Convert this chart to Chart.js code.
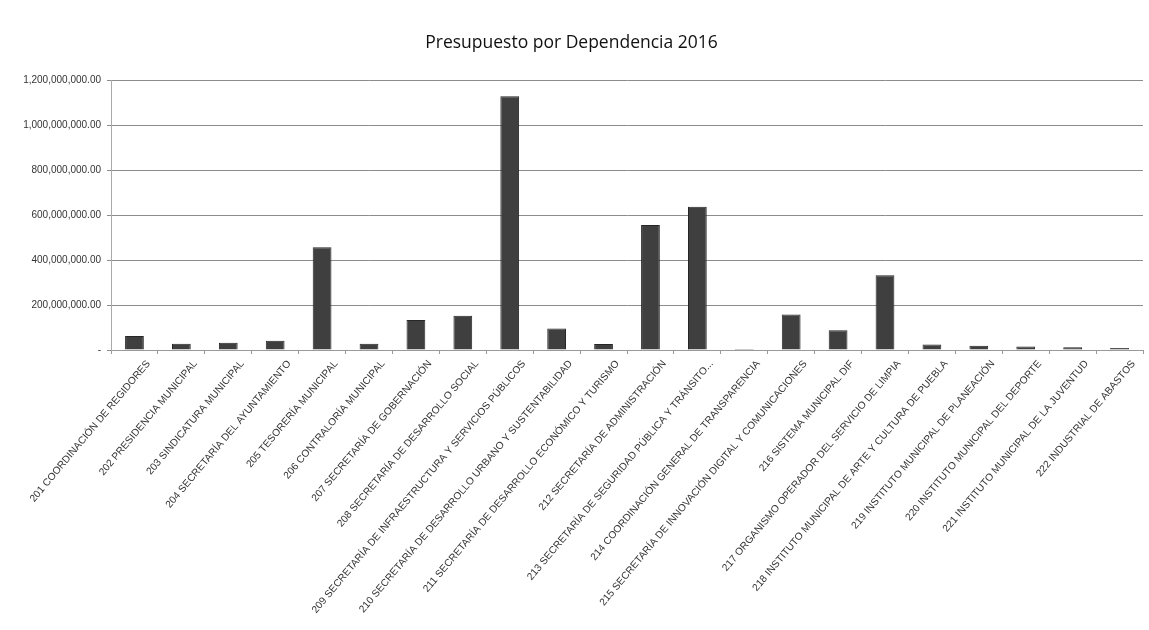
<!DOCTYPE html>
<html>
<head>
<meta charset="utf-8">
<title>Presupuesto por Dependencia 2016</title>
<script src="https://cdn.jsdelivr.net/npm/chart.js@4/dist/chart.umd.min.js"></script>
<style>
  html, body { margin: 0; padding: 0; background: #fff; }
  #wrap { width: 1149px; height: 630px; }
</style>
</head>
<body>
<div id="wrap"><canvas id="presupuestoChart" width="1149" height="630"></canvas></div>
<script>
const dependencias = [
  '201 COORDINACIÓN DE REGIDORES',
  '202 PRESIDENCIA MUNICIPAL',
  '203 SINDICATURA MUNICIPAL',
  '204 SECRETARÍA DEL AYUNTAMIENTO',
  '205 TESORERÍA MUNICIPAL',
  '206 CONTRALORÍA MUNICIPAL',
  '207 SECRETARÍA DE GOBERNACIÓN',
  '208 SECRETARÍA DE DESARROLLO SOCIAL',
  '209 SECRETARÍA DE INFRAESTRUCTURA Y SERVICIOS PÚBLICOS',
  '210 SECRETARÍA DE DESARROLLO URBANO Y SUSTENTABILIDAD',
  '211 SECRETARÍA DE DESARROLLO ECONÓMICO Y TURISMO',
  '212 SECRETARÍA DE ADMINISTRACIÓN',
  '213 SECRETARÍA DE SEGURIDAD PÚBLICA Y TRÁNSITO...',
  '214 COORDINACIÓN GENERAL DE TRANSPARENCIA',
  '215 SECRETARÍA DE INNOVACIÓN DIGITAL Y COMUNICACIONES',
  '216 SISTEMA MUNICIPAL DIF',
  '217 ORGANISMO OPERADOR DEL SERVICIO DE LIMPIA',
  '218 INSTITUTO MUNICIPAL DE ARTE Y CULTURA DE PUEBLA',
  '219 INSTITUTO MUNICIPAL DE PLANEACIÓN',
  '220 INSTITUTO MUNICIPAL DEL DEPORTE',
  '221 INSTITUTO MUNICIPAL DE LA JUVENTUD',
  '222 INDUSTRIAL DE ABASTOS'
];

const presupuesto = [
  62000000, 28000000, 32000000, 41000000, 457000000, 28000000,
  133000000, 152000000, 1128000000, 96000000, 27000000, 556000000,
  637000000, 5000000, 158000000, 88000000, 332000000, 25000000,
  19000000, 16000000, 12000000, 9000000
];

const ejeMax = 1200000000;
const ejePaso = 200000000;

function formatoMonto(v) {
  if (v === 0) return '-';
  return v.toLocaleString('en-US', { minimumFractionDigits: 2, maximumFractionDigits: 2 });
}

const ctx = document.getElementById('presupuestoChart');
new Chart(ctx, {
  type: 'bar',
  data: {
    labels: dependencias,
    datasets: [{
      label: 'Presupuesto',
      data: presupuesto,
      backgroundColor: '#3f3f3f',
      borderColor: '#262626',
      borderWidth: 1,
      categoryPercentage: 1,
      barPercentage: 0.4
    }]
  },
  options: {
    responsive: false,
    animation: false,
    layout: { padding: { left: 0, right: 6, top: 0, bottom: 0 } },
    plugins: {
      legend: { display: false },
      tooltip: { enabled: false },
      title: {
        display: true,
        text: 'Presupuesto por Dependencia 2016',
        color: '#111',
        font: { family: 'Open Sans', size: 17.5, weight: 'normal' },
        padding: { top: 33, bottom: 26 }
      }
    },
    scales: {
      x: {
        grid: { drawOnChartArea: false, tickLength: 4, color: '#999', offset: true },
        border: { color: '#999' },
        ticks: {
          autoSkip: false,
          minRotation: 50,
          maxRotation: 50,
          labelOffset: 14,
          padding: 4,
          color: '#333',
          font: { family: 'Liberation Sans', size: 10.2 }
        },
        afterFit: function(scale) { scale.height = 280; }
      },
      y: {
        min: 0,
        max: ejeMax,
        ticks: {
          stepSize: ejePaso,
          padding: 6,
          color: '#333',
          font: { family: 'Liberation Sans', size: 10 },
          callback: function(value) { return formatoMonto(value); }
        },
        grid: { color: '#8c8c8c', tickLength: 4 },
        border: { color: '#aaa', dash: [] },
        afterFit: function(scale) { scale.width = 111; }
      }
    }
  }
});
</script>
</body>
</html>
